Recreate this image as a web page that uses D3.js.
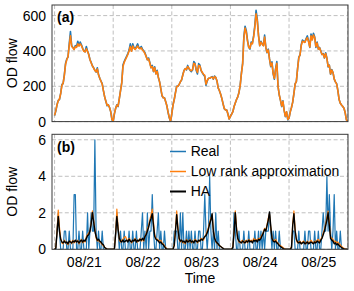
<!DOCTYPE html>
<html>
<head>
<meta charset="utf-8">
<script src="https://cdn.jsdelivr.net/npm/d3@7"></script>
<style>
    body { margin: 0; background: #fff; }
    svg { font-family: "Liberation Sans", Arial, Helvetica, sans-serif; }
    .grid line { stroke: #b8b8b8; stroke-width: 0.9; stroke-dasharray: 4 2.4; }
    .axis text { font-size: 14px; fill: #000; }
</style>
</head>
<body>
<svg id="chart" width="354" height="291"></svg>
<script>
//half-hour samples, 48 per day, starting 08/21 00:00
const stepsPerDay = 48
const dayLabels = ["08/21", "08/22", "08/23", "08/24", "08/25"]
const yTicksA = [0, 200, 400, 600]
const yTicksB = [0, 2, 4, 6]

const flowRealA = [
    35,60,95,120,125,160,210,215,265,330,355,365,440,510,430,420,410,430,425,455,430,450,435,415,400,395,425,400,380,350,335,315,305,290,280,305,265,245,230,215,175,140,115,90,95,80,55,10,
    0,45,75,95,85,130,175,220,320,340,355,370,385,405,440,400,440,420,410,425,440,420,415,425,410,400,390,370,350,360,335,305,318,283,310,270,290,250,225,185,145,135,135,113,88,50,20,0,
    45,95,125,165,200,200,210,225,235,265,290,300,292,318,300,290,283,292,340,330,290,270,328,320,288,276,265,255,205,230,245,245,250,255,240,258,250,230,189,175,155,130,100,72,66,66,42,15,
    30,42,56,85,105,125,140,165,205,274,330,480,540,515,460,420,410,450,445,485,545,630,580,490,430,455,440,430,490,420,390,410,355,311,338,270,240,300,340,200,150,120,85,118,64,28,55,10,
    20,55,80,110,160,215,226,300,365,377,435,462,455,450,470,485,455,420,495,465,500,480,420,450,410,420,400,380,385,360,390,360,310,320,268,295,278,240,225,215,175,125,104,94,85,76,50,10,0
]
const flowLowRankA = [
    35,62,95,118,128,158,205,218,262,325,350,368,430,485,425,418,408,425,420,440,428,440,430,412,398,395,412,398,378,350,332,315,302,290,282,298,265,245,228,212,175,140,115,92,95,80,55,12,
    2,45,75,93,88,128,175,218,312,335,350,365,380,400,425,398,428,415,408,418,428,415,412,418,405,398,385,368,350,355,330,305,312,285,305,270,285,250,225,185,148,135,133,112,88,52,22,2,
    45,93,125,163,198,200,210,225,238,262,288,300,295,312,302,292,288,295,330,325,295,278,318,315,290,278,268,262,212,232,245,245,250,252,242,255,250,230,190,175,155,130,100,74,66,66,42,15,
    30,42,56,85,105,125,140,165,205,272,325,470,530,505,455,420,415,445,440,478,535,610,570,485,430,450,438,430,478,420,392,405,355,315,332,272,245,295,330,200,152,120,88,115,64,30,55,12,
    20,55,80,110,160,212,228,298,360,378,430,455,452,448,465,475,452,422,485,462,490,475,425,445,410,418,398,380,382,362,385,358,312,318,270,292,278,242,225,212,175,125,104,94,85,76,50,10,0
]

const flowRealB = [
    0,0,1,2,1,0,0,0,1,1,0,0,1,0,0,0,3,3,0,0,1,0,0,1,0,0,0,2,0,1,2,1,1,6,1,0,1,0,0,1,0,0,0,0,0,0,0,0,
    0,0,1,2,1,0,1,0,0,1,0,0,0,1,0,0,1,0,0,1,0,0,0,1,2,0,1,0,2,0,1,1,3,1,0,0,1,2,0,1,0,0,1,0,0,0,0,0,
    0,0,1,1,1,0,0,2,0,2,0,0,1,0,1,0,1,0,0,1,0,0,1,1,0,0,1,3,1,0,1,4,1,0,1,0,2,0,1,0,0,0,0,0,0,0,0,0,
    0,0,0,2,1,0,0,1,0,0,0,1,0,0,0,1,0,0,0,0,1,0,0,1,0,1,0,1,0,1,1,1,2,1,0,1,0,1,0,0,1,0,0,0,0,0,0,0,
    0,0,0,1,1,0,0,0,1,0,0,0,0,1,0,0,1,1,0,0,0,1,0,0,1,0,0,1,2,1,1,4,1,3,1,0,1,3,0,1,0,0,1,0,0,0,0,0,0
]
const flowLowRankB = [
    0,0.1,1.0,2.15,1.2,0.6,0.35,0.3,0.5,0.4,0.35,0.25,0.4,0.45,0.3,0.5,0.35,0.45,0.4,0.5,0.3,0.4,0.55,0.35,0.45,0.4,0.7,0.8,0.9,1.0,1.5,2.1,1.6,1.1,0.6,0.45,0.5,0.4,0.35,0.25,0.2,0.1,0.05,0.02,0,0,0,0,
    0,0.05,0.9,2.2,1.2,0.5,0.4,0.5,0.55,0.65,0.7,0.55,0.45,0.6,0.5,0.35,0.45,0.5,0.6,0.45,0.4,0.5,0.6,0.45,0.55,0.45,0.7,0.85,1.1,1.3,1.6,1.9,2.2,1.5,0.8,0.6,0.55,0.5,0.45,0.5,0.35,0.3,0.2,0.1,0.02,0,0,0,
    0,0,0.3,1.1,2.1,1.2,0.55,0.4,0.5,0.35,0.4,0.3,0.55,0.45,0.4,0.55,0.35,0.45,0.4,0.55,0.5,0.35,0.45,0.5,0.6,0.55,0.5,0.7,0.8,1.0,1.2,1.5,1.7,1.9,1.1,0.65,0.4,0.35,0.25,0.2,0.15,0.1,0.05,0,0,0,0,0,
    0,0,0.15,1.0,2.1,1.2,0.55,0.4,0.35,0.45,0.5,0.35,0.45,0.5,0.35,0.55,0.45,0.5,0.4,0.6,0.5,0.55,0.45,0.6,0.55,0.7,0.8,0.95,1.15,1.05,1.35,1.7,1.95,1.2,0.65,0.5,0.45,0.55,0.4,0.35,0.25,0.2,0.15,0.1,0.05,0,0,0,
    0,0,0.15,1.4,2.1,1.1,0.5,0.35,0.4,0.45,0.3,0.4,0.45,0.35,0.3,0.45,0.35,0.4,0.5,0.4,0.35,0.45,0.4,0.5,0.55,0.4,0.55,0.65,0.9,1.1,1.4,1.75,2.1,1.4,0.7,0.6,0.55,0.4,0.45,0.35,0.4,0.3,0.25,0.15,0.1,0.05,0.02,0,0
]
const flowHA = [
    0,0.05,0.9,1.8,1.0,0.55,0.4,0.35,0.45,0.35,0.4,0.3,0.45,0.4,0.35,0.45,0.4,0.5,0.4,0.45,0.35,0.45,0.5,0.4,0.5,0.45,0.6,0.75,0.8,1.0,1.4,2.0,1.5,1.0,0.7,0.5,0.55,0.45,0.4,0.3,0.25,0.1,0.05,0,0,0,0,0,
    0,0,0.8,1.8,1.1,0.6,0.45,0.4,0.5,0.4,0.45,0.5,0.4,0.55,0.45,0.4,0.5,0.45,0.55,0.4,0.5,0.45,0.55,0.5,0.6,0.5,0.7,0.8,1.0,1.2,1.5,1.7,1.95,1.3,0.7,0.55,0.5,0.45,0.35,0.4,0.3,0.25,0.15,0.05,0,0,0,0,
    0,0,0.2,1.0,1.9,1.1,0.6,0.45,0.5,0.4,0.45,0.35,0.5,0.4,0.45,0.5,0.4,0.45,0.35,0.5,0.45,0.4,0.5,0.45,0.55,0.5,0.6,0.7,0.75,0.9,1.1,1.4,1.6,1.95,1.0,0.6,0.45,0.35,0.3,0.2,0.15,0.1,0.05,0,0,0,0,0,
    0,0,0.1,0.9,2.0,1.1,0.6,0.45,0.4,0.35,0.45,0.4,0.35,0.45,0.4,0.5,0.4,0.45,0.35,0.5,0.45,0.5,0.4,0.55,0.5,0.6,0.75,0.9,1.1,1.0,1.3,1.6,2.05,1.3,0.6,0.45,0.4,0.45,0.35,0.3,0.2,0.15,0.1,0.05,0,0,0,0,
    0,0,0.1,1.3,1.95,1.0,0.55,0.4,0.35,0.4,0.3,0.35,0.4,0.3,0.35,0.4,0.3,0.35,0.4,0.35,0.3,0.4,0.35,0.45,0.4,0.35,0.5,0.6,0.8,1.0,1.3,1.6,2.0,1.3,0.6,0.5,0.45,0.3,0.35,0.25,0.3,0.2,0.15,0.1,0.05,0.02,0,0,0
]

const colors = { real: "#1f77b4", lowRank: "#ff7f0e", ha: "#000000" }

const left = 52
const right = 348
const panelA = { top: 5, bottom: 121.6 }
const panelB = { top: 134.3, bottom: 249.3 }

const $svg = d3.select("#chart")

const xScale = d3.scaleLinear()
    .domain([-0.044, 5.006])
    .range([left, right])

const yScaleA = d3.scaleLinear()
    .domain([0, 660])
    .range([panelA.bottom, panelA.top])

const yScaleB = d3.scaleLinear()
    .domain([0, 6.3])
    .range([panelB.bottom, panelB.top])

const dayBounds = d3.range(0, dayLabels.length + 1)
const dayMids = dayLabels.map((d, i) => i + 0.5)

function drawPanel(yScale, yTicks, panel, id) {
    const $g = $svg.append("g").attr("id", id)

    $g.append("clipPath").attr("id", `clip-${id}`)
        .append("rect")
        .attr("x", left).attr("y", panel.top)
        .attr("width", right - left).attr("height", panel.bottom - panel.top)

    //grid
    const $grid = $g.append("g").attr("class", "grid")
    $grid.selectAll("line.v")
        .data(dayBounds)
        .enter().append("line")
        .attr("class", "v")
        .attr("x1", d => xScale(d)).attr("x2", d => xScale(d))
        .attr("y1", panel.top).attr("y2", panel.bottom)
    $grid.selectAll("line.h")
        .data(yTicks)
        .enter().append("line")
        .attr("class", "h")
        .attr("x1", left).attr("x2", right)
        .attr("y1", d => yScale(d)).attr("y2", d => yScale(d))

    const yAxis = d3.axisLeft(yScale)
        .tickValues(yTicks)
        .tickFormat(d3.format("d"))
        .tickSize(0)
        .tickPadding(6)
    $g.append("g")
        .attr("class", "axis")
        .attr("transform", `translate(${left},0)`)
        .call(yAxis)
        .call(g => g.select(".domain").remove())

    $g.append("text")
        .attr("transform", `translate(17,${(panel.top + panel.bottom) / 2}) rotate(-90)`)
        .attr("text-anchor", "middle")
        .attr("font-size", "14px")
        .text("OD flow")

    return $g
}

function drawSeries($g, id, yScale, values, color, lw) {
    const line = d3.line()
        .x((d, i) => xScale(i / stepsPerDay))
        .y(d => yScale(d))
    $g.append("path")
        .datum(values)
        .attr("clip-path", `url(#clip-${id})`)
        .attr("fill", "none")
        .attr("stroke", color)
        .attr("stroke-width", lw)
        .attr("stroke-linejoin", "round")
        .attr("d", line)
}

function drawFrame($g, panel, label) {
    $g.append("rect")
        .attr("x", left).attr("y", panel.top)
        .attr("width", right - left).attr("height", panel.bottom - panel.top)
        .attr("fill", "none")
        .attr("stroke", "#3a3a3a")
        .attr("stroke-width", 1)
    $g.append("text")
        .attr("x", 57)
        .attr("y", panel.top + 17.3)
        .attr("font-size", "14px")
        .attr("font-weight", "bold")
        .text(label)
}

// (a)
const $a = drawPanel(yScaleA, yTicksA, panelA, "a")
drawSeries($a, "a", yScaleA, flowRealA, colors.real, 1.6)
drawSeries($a, "a", yScaleA, flowLowRankA, colors.lowRank, 1.6)
drawFrame($a, panelA, "(a)")

// (b)
const $b = drawPanel(yScaleB, yTicksB, panelB, "b")
drawSeries($b, "b", yScaleB, flowRealB, colors.real, 1.2)
drawSeries($b, "b", yScaleB, flowLowRankB, colors.lowRank, 1.2)
drawSeries($b, "b", yScaleB, flowHA, colors.ha, 1.4)
drawFrame($b, panelB, "(b)")

const xAxis = d3.axisBottom(xScale)
    .tickValues(dayMids)
    .tickFormat((d, i) => dayLabels[i])
    .tickSize(0)
    .tickPadding(7.3)
$b.append("g")
    .attr("class", "axis")
    .attr("transform", `translate(0,${panelB.bottom})`)
    .call(xAxis)
    .call(g => g.select(".domain").remove())

$svg.append("text")
    .attr("x", (left + right) / 2)
    .attr("y", 283.3)
    .attr("text-anchor", "middle")
    .attr("font-size", "14px")
    .text("Time")

//legend
const legendItems = [
    { name: "Real", color: colors.real, lw: 1.5 },
    { name: "Low rank approximation", color: colors.lowRank, lw: 1.5 },
    { name: "HA", color: colors.ha, lw: 2 }
]
const $legend = $svg.append("g")
    .selectAll("g")
    .data(legendItems)
    .enter().append("g")
    .attr("transform", (d, i) => `translate(170,${151.5 + i * 20})`)
$legend.append("line")
    .attr("x1", 0).attr("x2", 16)
    .attr("stroke", d => d.color)
    .attr("stroke-width", d => d.lw)
$legend.append("text")
    .attr("x", 20.7)
    .attr("y", 4.2)
    .attr("font-size", "14px")
    .text(d => d.name)
</script>
</body>
</html>
